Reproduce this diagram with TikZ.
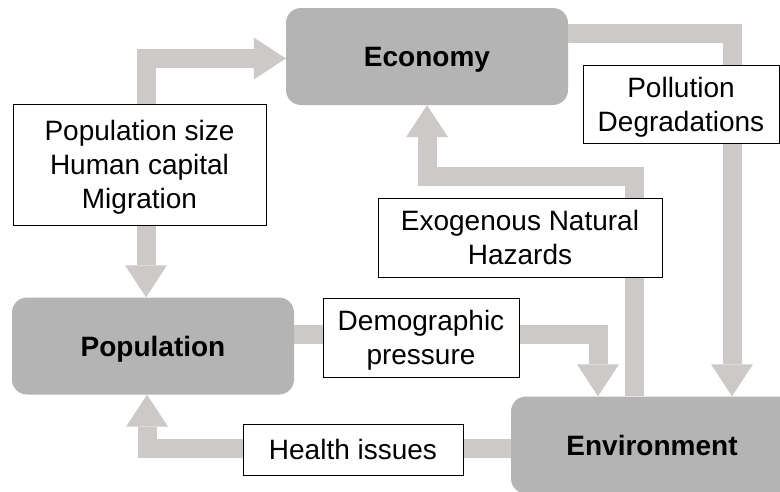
\documentclass[tikz,border=0pt]{standalone}
\usepackage{fontspec}
\setmainfont{Liberation Sans}
\usetikzlibrary{arrows.meta}
\definecolor{boxgrey}{RGB}{180,180,180}
\definecolor{arrowgrey}{RGB}{205,201,200}
\tikzset{
  mainbox/.style={fill=boxgrey, rounded corners=15pt, minimum width=282pt, minimum height=97pt, inner sep=0pt, font=\fontsize{28}{34}\selectfont\bfseries},
  labelbox/.style={fill=white, draw=black, line width=0.9pt, inner sep=0pt, align=center, text depth=0pt, font=\fontsize{28}{34}\selectfont},
  fat/.style={draw=arrowgrey, line width=19pt, line join=miter},
  fathead/.style={-{Triangle[width=42pt,length=32pt,line width=0pt,color=arrowgrey]}},
  fatboth/.style={{Triangle[width=42pt,length=32pt,line width=0pt,color=arrowgrey]}-{Triangle[width=42pt,length=32pt,line width=0pt,color=arrowgrey]}}
}
\begin{document}
\begin{tikzpicture}[x=1pt,y=-1pt]
\clip (0,0) rectangle (780,491);
\fill[white] (0,0) rectangle (780,491);
% main boxes
\node[mainbox, text depth=0pt] (eco) at (427,56.5) {Economy};
\node[mainbox, text depth=0pt] (pop) at (153,346) {Population};
\node[mainbox] (env) at (652,445) {Environment};
% routing coordinates
\coordinate (c1) at (146,58.5);
\coordinate (c2) at (732,33);
\coordinate (c3a) at (634,176);
\coordinate (c3b) at (427,176);
\coordinate (c4) at (598,334);
\coordinate (c5) at (147,448);
% connectors
\draw[fat,fatboth] (c1 |- pop.north) |- (eco.west |- c1);
\draw[fat,fathead] (eco.east |- c2) -| (c2 |- env.north);
\draw[fat,fathead] (c3a |- env.north) -- (c3a) -- (c3b) -- (c3b |- eco.south);
\draw[fat,fathead] (pop.east |- c4) -| (c4 |- env.north);
\draw[fat,fathead] (env.west |- c5) -| (c5 |- pop.south);
% labels
\node[labelbox, minimum width=253pt, minimum height=121pt] (l1) at (139.5,164.5) {Population size\\Human capital\\Migration};
\node[labelbox, minimum width=196pt, minimum height=78pt] (l2) at (681,104) {Pollution\\Degradations};
\node[labelbox, minimum width=284pt, minimum height=79pt] (l3) at (520,237.5) {Exogenous Natural\\Hazards};
\node[labelbox, minimum width=196pt, minimum height=79pt] (l4) at (421,337.5) {Demographic\\pressure};
\node[labelbox, minimum width=220pt, minimum height=51pt] (l5) at (353,449.5) {Health issues};
\end{tikzpicture}
\end{document}
